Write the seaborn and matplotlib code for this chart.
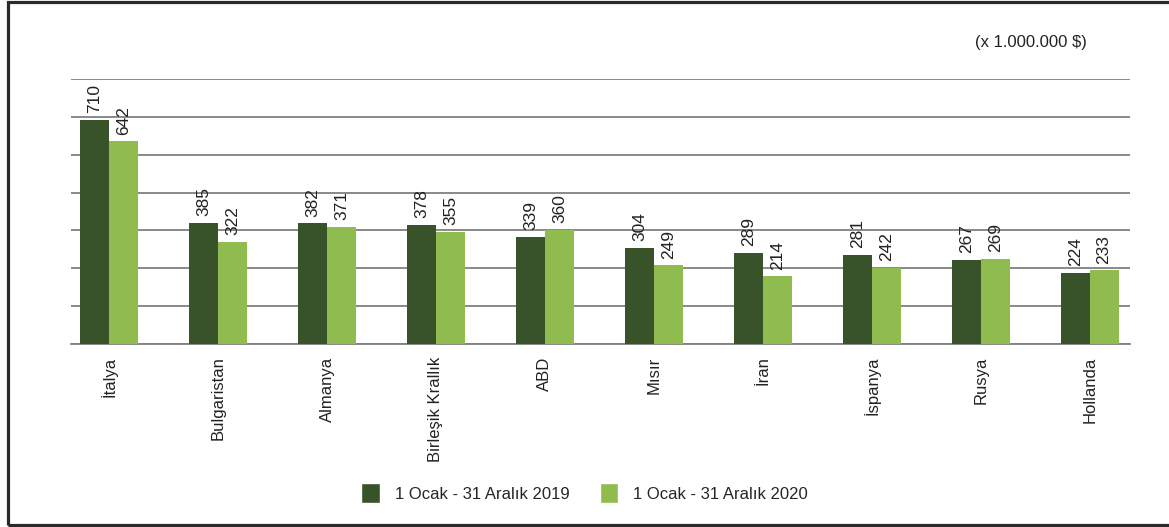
import pandas as pd
import numpy as np
import matplotlib.pyplot as plt
import seaborn as sns
from matplotlib.patches import Rectangle, Patch

countries = ["İtalya", "Bulgaristan", "Almanya", "Birleşik Krallık", "ABD",
             "Mısır", "İran", "İspanya", "Rusya", "Hollanda"]
values_2019 = [710, 385, 382, 378, 339, 304, 289, 281, 267, 224]
values_2020 = [642, 322, 371, 355, 360, 249, 214, 242, 269, 233]
series = ["1 Ocak - 31 Aralık 2019", "1 Ocak - 31 Aralık 2020"]
unit_note = "(x 1.000.000 $)"

dark_green = "#38522a"
light_green = "#8fbb4f"


def main():
    df = pd.DataFrame({"Ülke": countries * 2,
                       "Değer": values_2019 + values_2020,
                       "Dönem": [series[0]] * len(countries) + [series[1]] * len(countries)})

    sns.set_style("white")
    plt.rcParams["font.family"] = ["Liberation Sans Narrow", "Liberation Sans", "DejaVu Sans"]

    fig = plt.figure(figsize=(11.69, 5.27), dpi=100)
    ax = fig.add_axes([71 / 1169, 1 - 344 / 527, (1130 - 71) / 1169, (344 - 79) / 527])

    sns.barplot(data=df, x="Ülke", y="Değer", hue="Dönem", ax=ax,
                palette=[dark_green, light_green], width=0.53, saturation=1,
                legend=False, zorder=3, linewidth=0)

    for cont in ax.containers:
        ax.bar_label(cont, rotation=90, padding=5, fontsize=12.5, color="#222222")

    ax.set_ylim(0, 840)
    ax.set_yticks(np.arange(0, 841, 120))
    ax.set_yticklabels([])
    ax.tick_params(axis="y", length=0)
    ax.grid(axis="y", color="#808080", linewidth=1.3, zorder=0)
    ax.set_xlim(-0.35, 9.37)
    ax.set_xlabel("")
    ax.set_ylabel("")
    ax.tick_params(axis="x", length=0, pad=9)
    ax.set_xticks(range(len(countries)))
    ax.set_xticklabels(countries, rotation=90, fontsize=12, color="#222222")
    for s in ["top", "right", "left"]:
        ax.spines[s].set_visible(False)
    ax.spines["bottom"].set_color("#808080")
    ax.spines["bottom"].set_linewidth(1.3)

    fig.text(1087 / 1169, 1 - 43 / 527, unit_note, ha="right", va="center",
             fontsize=12, color="#222222")

    handles = [Patch(facecolor=dark_green), Patch(facecolor=light_green)]
    fig.legend(handles, series, loc="center", bbox_to_anchor=(0.5, 1 - 493 / 527),
               ncol=2, frameon=False, fontsize=12, handlelength=1.1, handleheight=1.4,
               columnspacing=1.8, handletextpad=0.9)

    fig.patches.append(Rectangle((7.5 / 1169, 2 / 527), 1.2, 1 - 3.5 / 527,
                                 transform=fig.transFigure, fill=False,
                                 edgecolor="#2a2a2a", linewidth=2.3))

    fig.savefig("out.png", dpi=100)


if __name__ == "__main__":
    main()
